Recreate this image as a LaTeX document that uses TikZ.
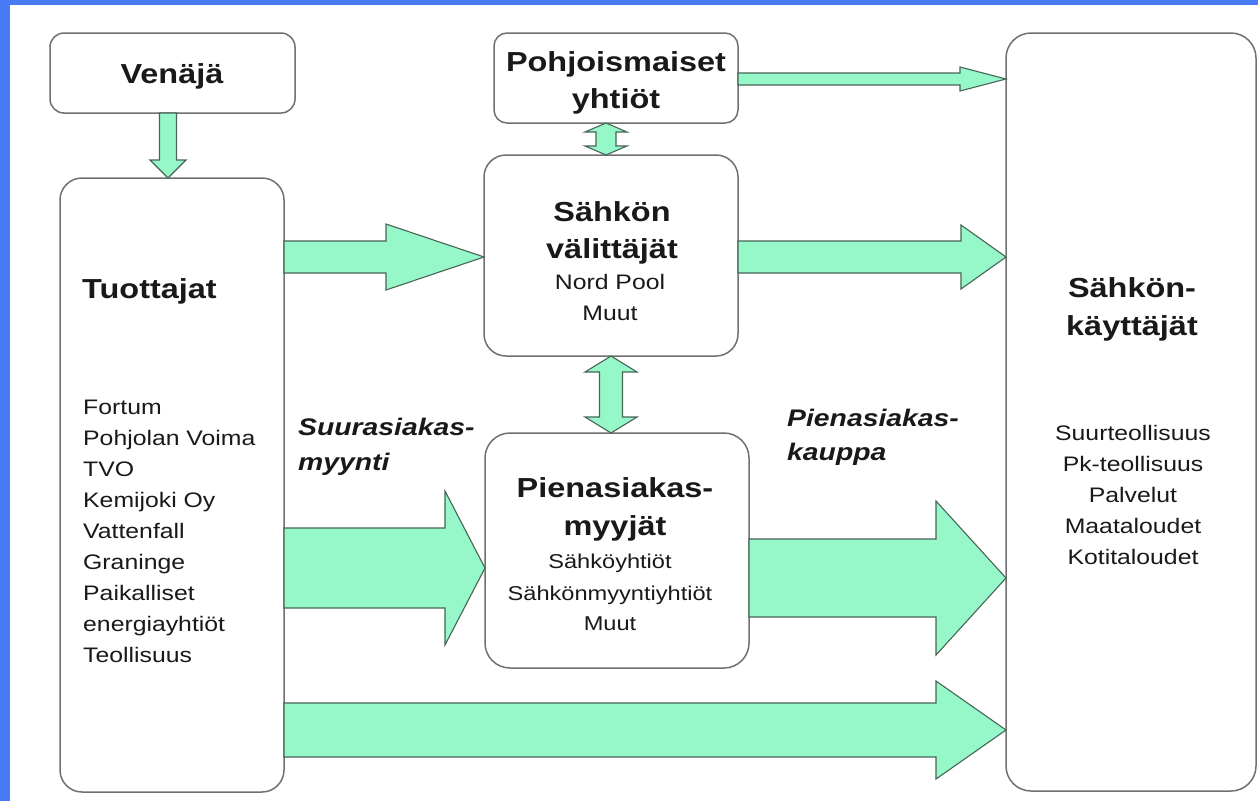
\documentclass[tikz,border=0pt]{standalone}
\usepackage{fontspec}
\setmainfont{Liberation Sans}
\usepackage{graphicx}
\usetikzlibrary{calc}
\definecolor{frameblue}{RGB}{72,122,245}
\definecolor{mint}{RGB}{150,247,200}
\definecolor{mintedge}{RGB}{72,100,86}
\definecolor{boxedge}{RGB}{112,112,112}
\definecolor{txt}{RGB}{25,25,25}
\newcommand\hs[1]{\scalebox{1.18}[1]{#1}}
% horizontal block arrow: from node, to node, y, shaft half, head half, head length
\newcommand\harr[6]{\coordinate (hy) at (0,#3);
 \draw[arr] ($(#1.east |- hy)+(0,-#4)$) -- ($(#2.west |- hy)+(-#6,-#4)$) -- ($(#2.west |- hy)+(-#6,-#5)$)
 -- (#2.west |- hy) -- ($(#2.west |- hy)+(-#6,#5)$) -- ($(#2.west |- hy)+(-#6,#4)$)
 -- ($(#1.east |- hy)+(0,#4)$) -- cycle;}
% vertical block arrow downwards: from node, to node, x, shaft half, head half, head length
\newcommand\varr[6]{\coordinate (vx) at (#3,0);
 \draw[arr] ($(#1.south -| vx)+(-#4,0)$) -- ($(#2.north -| vx)+(-#4,-#6)$) -- ($(#2.north -| vx)+(-#5,-#6)$)
 -- (#2.north -| vx) -- ($(#2.north -| vx)+(#5,-#6)$) -- ($(#2.north -| vx)+(#4,-#6)$)
 -- ($(#1.south -| vx)+(#4,0)$) -- cycle;}
% vertical double block arrow
\newcommand\dvarr[6]{\coordinate (vx) at (#3,0);
 \draw[arr] (#1.south -| vx) -- ($(#1.south -| vx)+(#5,#6)$) -- ($(#1.south -| vx)+(#4,#6)$)
 -- ($(#2.north -| vx)+(#4,-#6)$) -- ($(#2.north -| vx)+(#5,-#6)$) -- (#2.north -| vx)
 -- ($(#2.north -| vx)+(-#5,-#6)$) -- ($(#2.north -| vx)+(-#4,-#6)$)
 -- ($(#1.south -| vx)+(-#4,#6)$) -- ($(#1.south -| vx)+(-#5,#6)$) -- cycle;}
\begin{document}
\begin{tikzpicture}[x=1pt,y=-1pt,
  box/.style={draw=boxedge, line width=1.5pt, fill=white, inner sep=0pt, outer sep=0pt},
  arr/.style={draw=mintedge, fill=mint, line width=1.1pt, line join=miter},
  title/.style={font=\fontsize{27.5}{27.5}\selectfont\bfseries, text=txt, anchor=base, inner sep=0pt},
  item/.style={font=\fontsize{21}{21}\selectfont, text=txt, anchor=base, inner sep=0pt},
  sitem/.style={font=\fontsize{20}{20}\selectfont, text=txt, anchor=base, inner sep=0pt},
  side/.style={font=\fontsize{24}{24}\selectfont\bfseries\itshape, text=txt, anchor=base west, inner sep=0pt}]
\useasboundingbox (0,0) rectangle (1258,801);
\fill[frameblue] (0,0) rectangle (1258,801);
\fill[white] (10,5) rectangle (1258,801);

% boxes
\node[box, rounded corners=14pt, minimum width=245pt, minimum height=80pt] (venaja) at (172.5,73) {};
\node[box, rounded corners=22pt, minimum width=224pt, minimum height=614pt] (tuot) at (172,485) {};
\node[box, rounded corners=13pt, minimum width=244pt, minimum height=90pt] (pohj) at (616,78) {};
\node[box, rounded corners=22pt, minimum width=254pt, minimum height=201pt] (valit) at (611,255.5) {};
\node[box, rounded corners=25pt, minimum width=264pt, minimum height=235pt] (pien) at (617,550.5) {};
\node[box, rounded corners=25pt, minimum width=250pt, minimum height=758pt] (kaytt) at (1131,412) {};

% arrows
\varr{venaja}{tuot}{168}{8.5}{18}{18}
\harr{pohj}{kaytt}{79}{6}{12}{46}
\dvarr{pohj}{valit}{606}{10}{21}{9}
\harr{tuot}{valit}{257}{16}{33}{98}
\harr{valit}{kaytt}{257}{16}{32}{45}
\dvarr{valit}{pien}{611}{11.5}{26}{16}
\harr{tuot}{pien}{568}{40}{77}{40}
\harr{pien}{kaytt}{578}{39}{77}{70}
\harr{tuot}{kaytt}{730}{27}{49}{70}

% texts
\node[title] (tV) at (172,83) {\hs{Venäjä}};
\node[title] (tP1) at (616,71) {\hs{Pohjoismaiset}};
\node[title] (tP2) at (616,108) {\hs{yhtiöt}};
\node[title] (tS1) at (612,221) {\hs{Sähkön}};
\node[title] (tS2) at (612,258) {\hs{välittäjät}};
\node[item] (tS3) at (610,289) {\hs{Nord Pool}};
\node[item] (tS4) at (610,320) {\hs{Muut}};

\node[title, anchor=base west] (tT) at (82,298) {\hs{Tuottajat}};
\node[item, anchor=base west] (l1) at (83,414) {\hs{Fortum}};
\node[item, anchor=base west] (l2) at (83,445) {\hs{Pohjolan Voima}};
\node[item, anchor=base west] (l3) at (83,476) {\hs{TVO}};
\node[item, anchor=base west] (l4) at (83,507) {\hs{Kemijoki Oy}};
\node[item, anchor=base west] (l5) at (83,538) {\hs{Vattenfall}};
\node[item, anchor=base west] (l6) at (83,569) {\hs{Graninge}};
\node[item, anchor=base west] (l7) at (83,600) {\hs{Paikalliset}};
\node[item, anchor=base west] (l8) at (83,631) {\hs{energiayhtiöt}};
\node[item, anchor=base west] (l9) at (83,662) {\hs{Teollisuus}};

\node[side] (s1) at (298,435) {\hs{Suurasiakas-}};
\node[side] (s2) at (298,470) {\hs{myynti}};
\node[side] (s3) at (787,426) {\hs{Pienasiakas-}};
\node[side] (s4) at (787,460) {\hs{kauppa}};

\node[title] (tM1) at (615,497) {\hs{Pienasiakas-}};
\node[title] (tM2) at (615,535) {\hs{myyjät}};
\node[sitem] (tM3) at (610,568) {\hs{Sähköyhtiöt}};
\node[sitem] (tM4) at (610,600) {\hs{Sähkönmyyntiyhtiöt}};
\node[sitem] (tM5) at (610,630) {\hs{Muut}};

\node[title] (tK1) at (1132,297) {\hs{Sähkön-}};
\node[title] (tK2) at (1132,335) {\hs{käyttäjät}};
\node[item] (r1) at (1133,440) {\hs{Suurteollisuus}};
\node[item] (r2) at (1133,471) {\hs{Pk-teollisuus}};
\node[item] (r3) at (1133,502) {\hs{Palvelut}};
\node[item] (r4) at (1133,533) {\hs{Maataloudet}};
\node[item] (r5) at (1133,564) {\hs{Kotitaloudet}};
\end{tikzpicture}
\end{document}
